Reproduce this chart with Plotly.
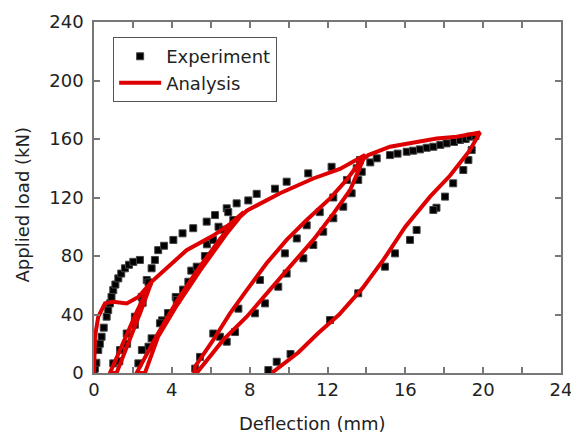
import plotly.graph_objects as go

# Experiment (black markers)
exp_deflection = [
    0, 0.05, 0.12, 0.22, 0.30, 0.39, 0.50, 0.65, 0.73, 0.82, 0.90, 0.99, 1.10, 1.25, 1.40, 1.59, 1.80, 2.02, 2.36,
    2.71, 2.45, 2.10, 1.68, 1.34, 0.99,
    1.30, 1.70, 2.10, 2.50, 2.80, 2.96, 3.13,
    3.30, 3.60, 4.08, 4.55, 5.10, 5.79, 6.22, 6.82, 7.33, 7.93, 8.36,
    6.90, 6.40, 5.80, 5.00, 4.20, 3.50, 2.80, 2.28,
    2.46, 2.96, 3.39, 3.80, 4.25, 4.58, 4.85, 5.28, 5.70, 6.12, 6.64, 7.16,
    9.30, 9.90, 11.01, 12.21, 13.67,
    13.76, 13.58, 13.24, 12.81, 12.30, 11.78, 11.27, 10.76, 9.90, 9.47, 8.79, 8.27, 7.25, 6.82,
    5.20, 5.45, 6.13, 6.47, 7.42, 8.53, 9.81, 10.42, 10.93, 11.60, 12.30, 13.00, 13.50,
    14.20, 14.53, 15.21, 15.60, 16.07, 16.40, 16.75, 17.10, 17.44, 17.80, 18.12, 18.50, 18.81, 19.10, 19.32, 19.60,
    19.41, 19.24, 18.98, 18.46, 18.04, 17.60, 17.44, 16.58, 16.24, 15.47, 14.95, 13.58, 12.13, 10.10, 9.39, 8.96,
]
exp_load = [
    0, 3, 7, 15.7, 20, 24.8, 31, 38.5, 43, 47.6, 52, 56.7, 60.5, 64.7, 68, 71.6, 74, 76, 77.3,
    63.6, 52, 38.5, 27, 15.7, 6.6,
    8, 20, 33, 48, 62, 71.6, 77.3,
    84, 87, 91, 95.5, 99, 103.5, 108, 112.6, 116, 118, 122.5,
    110, 100, 88, 70, 52, 36, 18, 6.6,
    15.7, 23.7, 34, 41, 50, 57, 62.4, 72.7, 80, 91, 98, 104.6,
    126, 130.8, 136.5, 141, 145.6,
    137.6, 132, 122.9, 113.7, 105.8, 96.6, 87.5, 78.4, 68, 59, 47.6, 40.8, 28, 21.4,
    3, 11, 27, 24.8, 44, 63.6, 81.8, 92, 101, 110, 120, 132, 140,
    144, 146.8, 149, 150, 151.3, 152, 152.9, 154, 154.7, 156, 157, 158, 159.3, 160, 161.6, 162,
    152.5, 145.6, 138.8, 129.7, 120.6, 113, 111.5, 97.8, 91, 81.8, 72.7, 54.5, 36.2, 13, 7.7, 2,
]

# Analysis (red line)
ana_deflection = [
    0, 0.02, 0.05, 0.22, 0.57, 0.99, 1.68, 2.28, 2.71, 2.96,
    2.40, 1.80, 1.16, 0.82, 1.50, 2.20, 2.96,
    3.73, 4.76, 6.13, 7.00, 7.70,
    6.80, 5.45, 4.20, 3.30, 2.62, 2.19, 3.20, 4.30, 5.40, 6.50, 7.20, 7.85,
    8.87, 9.56, 11.27, 12.64, 13.93,
    13.16, 12.30, 11.27, 10.07, 8.87, 7.85, 6.64, 5.28, 5.15,
    5.19, 6.13, 6.99, 7.85, 8.87, 9.90, 10.93, 12.13, 12.98, 13.70, 14.10,
    15.21, 16.58, 17.61, 18.64, 19.84,
    19.30, 18.30, 17.27, 16.00, 14.87, 13.80, 12.60, 11.50, 10.50, 9.13,
]
ana_load = [
    0, 10, 24.8, 38.5, 47.6, 48.7, 47.6, 52, 59, 62.4,
    42, 22, 0, 0, 20, 42, 62.4,
    71.6, 84, 94, 102, 110,
    95, 70, 45, 25, 0, 0, 25, 50, 72, 92, 103, 111,
    118.3, 122.9, 133, 139.5, 149,
    125, 109, 91, 72.7, 54.5, 38.5, 22.6, 0, 0,
    4.3, 22.6, 40.8, 56.7, 75, 91, 104.6, 119.4, 132, 145, 149,
    154.7, 158, 160.4, 161.6, 164.5,
    152, 135, 120.6, 100, 77.3, 58, 40, 27, 14, 0,
]

x_tickvals = [0, 4, 8, 12, 16, 20, 24]
y_tickvals = [0, 40, 80, 120, 160, 200, 240]
x_title = "Deflection (mm)"
y_title = "Applied load (kN)"

FONT = "DejaVu Sans, sans-serif"
TXT = "#222"

fig = go.Figure()
fig.add_trace(go.Scatter(
    x=exp_deflection, y=exp_load, mode="markers", name="Experiment",
    marker=dict(symbol="square", size=7, color="black", line=dict(color="#444", width=1)),
))
fig.add_trace(go.Scatter(
    x=ana_deflection, y=ana_load, mode="lines", name="Analysis",
    line=dict(color="rgb(222,0,0)", width=4),
))

axis_common = dict(
    showline=True, linecolor="#777", linewidth=1.5, mirror="ticks",
    ticks="inside", ticklen=6, tickcolor="#777", tickwidth=1.5,
    showgrid=False, zeroline=False, automargin=False,
    tickfont=dict(family=FONT, size=18, color=TXT),
)

# page body adds an 8px offset, so the figure is 8px smaller and margins are shifted
fig.update_layout(
    width=571, height=428,
    margin=dict(l=86, r=18, t=14, b=63),
    paper_bgcolor="white", plot_bgcolor="white",
    font=dict(family=FONT, size=18, color=TXT),
    xaxis=dict(range=[0, 24], tickvals=x_tickvals, ticktext=[str(v) for v in x_tickvals],
               minor=dict(ticks="inside", dtick=2, ticklen=6, tickcolor="#777", tickwidth=1.5),
               **axis_common),
    yaxis=dict(range=[0, 240], tickvals=y_tickvals, ticktext=[str(v) for v in y_tickvals],
               ticklabelstandoff=5,
               **axis_common),
    legend=dict(x=0.041, y=0.957, xanchor="left", yanchor="top",
                bordercolor="#555", borderwidth=1, bgcolor="white", itemwidth=42,
                font=dict(family=FONT, size=18, color=TXT), tracegroupgap=0),
    showlegend=True,
    annotations=[
        dict(text=x_title, xref="paper", yref="paper", x=0.467, y=-0.1425,
             xanchor="center", yanchor="middle", showarrow=False,
             font=dict(family=FONT, size=18, color=TXT)),
        dict(text=y_title, xref="paper", yref="paper", x=-0.152, y=0.48,
             xanchor="center", yanchor="middle", textangle=-90, showarrow=False,
             font=dict(family=FONT, size=18, color=TXT)),
    ],
)

fig.write_html("out.html")
